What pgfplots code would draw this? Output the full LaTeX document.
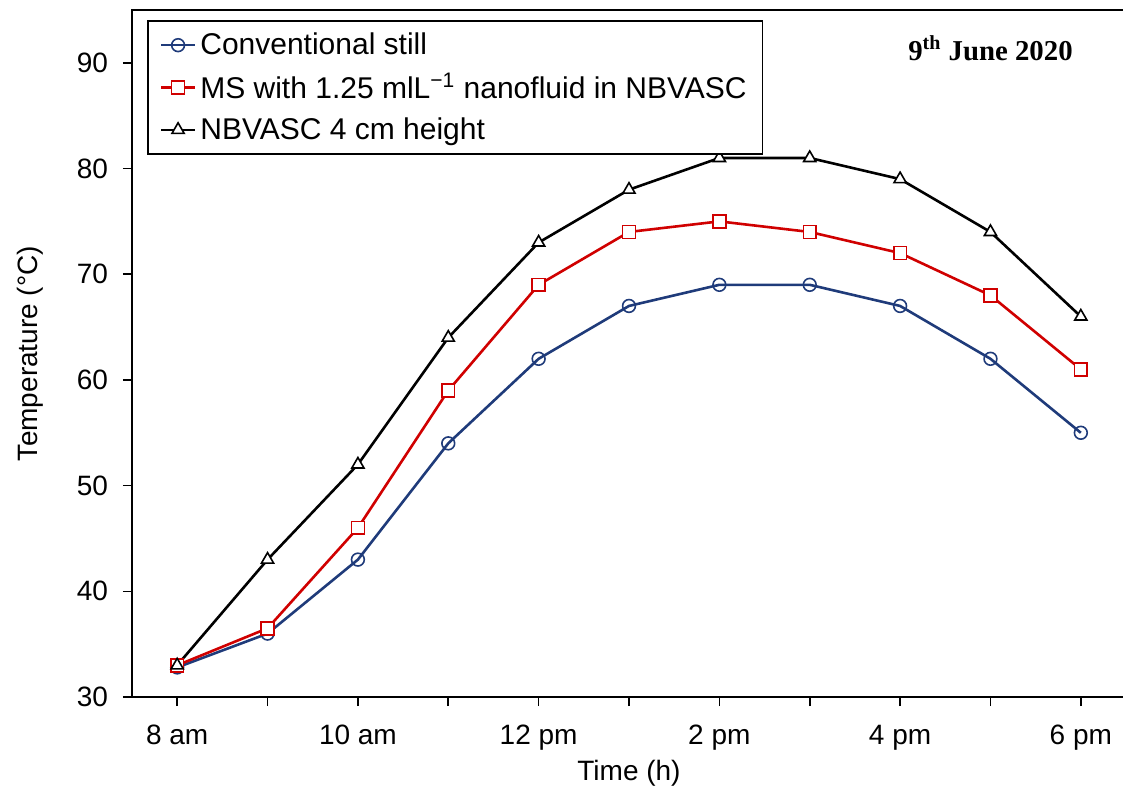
\documentclass[border=0pt]{standalone}
\usepackage{fontspec}
\setmainfont{Liberation Sans}
\newfontfamily\timesfont{Liberation Serif}
\usepackage{pgfplots}
\pgfplotsset{compat=1.18}
\definecolor{navy}{HTML}{1F3B7A}
\definecolor{myred}{HTML}{D00000}
\begin{document}
\begin{tikzpicture}
\begin{axis}[
  name=ax,
  scale only axis,
  width=497pt, height=343.5pt,
  xmin=7.5, xmax=18.5, ymin=30, ymax=95,
  xtick={8,9,...,18},
  xticklabels={8 am,,10 am,,12 pm,,2 pm,,4 pm,,6 pm},
  ytick={30,40,...,90},
  xtick pos=bottom, ytick pos=left,
  tick align=outside,
  major tick length=4.5pt,
  axis line style={line width=1pt},
  every tick/.style={black,line width=0.8pt},
  tick label style={font=\fontsize{14}{16}\selectfont},
  /pgf/number format/assume math mode=true,
  label style={font=\fontsize{14}{16}\selectfont},
  xlabel={Time (h)},
  ylabel={Temperature (°C)},
  xlabel style={yshift=2pt},
  ylabel style={yshift=10pt},
  xticklabel style={yshift=-6pt},
  yticklabel style={xshift=-4pt},
  legend style={at={(0,1)}, xshift=7.5pt, yshift=-5pt, anchor=north west,
    font=\fontsize{15}{17}\selectfont, draw=black, line width=0.8pt,
    row sep=4pt, inner xsep=6pt, inner ysep=4pt},
  legend cell align=left,
  legend image post style={line width=1.2pt},
  clip=false,
]
\addplot[navy, line width=1.3pt, mark=o, mark size=3.2pt, mark options={fill=white, fill opacity=1, line width=0.8pt}]
  coordinates {(8,32.8)(9,36)(10,43)(11,54)(12,62)(13,67)(14,69)(15,69)(16,67)(17,62)(18,55)};
\addlegendentry{Conventional still}
\addplot[myred, line width=1.3pt, mark=square*, mark size=3.2pt, mark options={fill=white, line width=0.8pt}]
  coordinates {(8,33)(9,36.5)(10,46)(11,59)(12,69)(13,74)(14,75)(15,74)(16,72)(17,68)(18,61)};
\addlegendentry{MS with 1.25 mlL\textsuperscript{−1} nanofluid in NBVASC}
\addplot[black, line width=1.3pt, mark=triangle*, mark size=3.5pt, mark options={fill=white, line width=0.8pt}]
  coordinates {(8,33)(9,43)(10,52)(11,64)(12,73)(13,78)(14,81)(15,81)(16,79)(17,74)(18,66)};
\addlegendentry{NBVASC 4 cm height}
\node[font=\timesfont\bfseries\fontsize{14.4}{17}\selectfont] at (axis cs:17,91.4) {9\textsuperscript{th} June 2020};
\end{axis}
\pgfresetboundingbox
\useasboundingbox (ax.south west) ++(-66pt,-45.5pt) rectangle ++(561.5pt,394pt);
\end{tikzpicture}
\end{document}
